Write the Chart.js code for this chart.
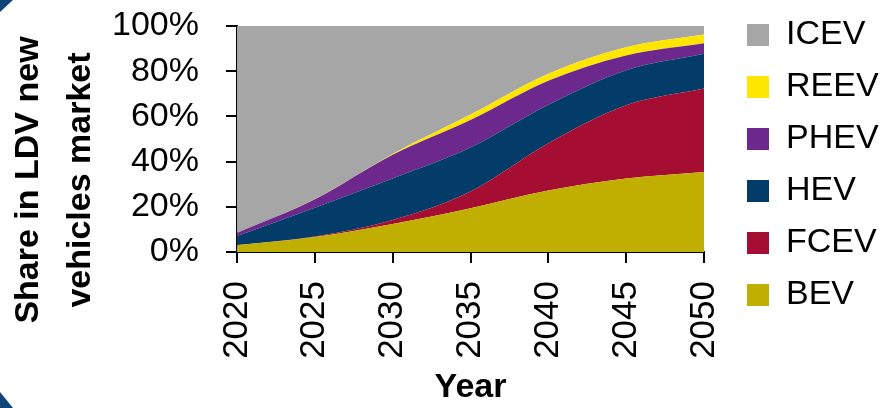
<!DOCTYPE html>
<html>
<head>
<meta charset="utf-8">
<title>LDV market share</title>
<script src="https://cdn.jsdelivr.net/npm/chart.js@4.4.1/dist/chart.umd.min.js"></script>
<style>
  html, body { margin: 0; padding: 0; background: #ffffff; }
  #wrap { position: relative; width: 883px; height: 408px; overflow: hidden; }
  #marketChart { display: block; }
  .corner { position: absolute; background: #0d4677; }
  .corner.top { left: 0; top: 0; width: 13px; height: 12px; clip-path: polygon(0 0, 100% 0, 0 100%); }
  .corner.bottom { left: 0; bottom: 0; width: 13px; height: 16px; clip-path: polygon(0 0, 100% 100%, 0 100%); }
</style>
</head>
<body>
<div id="wrap">
  <canvas id="marketChart" width="883" height="408"></canvas>
  <div class="corner top"></div>
  <div class="corner bottom"></div>
</div>
<script>
  const years = [2020, 2025, 2030, 2035, 2040, 2045, 2050];
  // share of new LDV sales per powertrain, %
  const bev = [3.0, 6.6, 12.4, 19.4, 27.2, 32.5, 35.4];
  const fcev = [0.1, 0.3, 1.8, 7.4, 20.9, 32.4, 36.9];
  const hev = [4.0, 12.7, 18.3, 19.4, 17.0, 15.5, 15.4];
  const phev = [1.3, 3.7, 10.5, 12.2, 10.7, 6.6, 4.7];
  const reev = [0.0, 0.1, 0.4, 2.4, 3.1, 3.6, 3.8];
  const icev = [91.6, 76.6, 56.6, 39.2, 21.1, 9.4, 3.8];
  const yTicks = [0, 20, 40, 60, 80, 100];
  const yTitle = ["Share in LDV new", "vehicles market"];

  const FONT = "'Liberation Sans', Arial, sans-serif";
  Chart.defaults.font.family = FONT;
  Chart.defaults.color = "#000000";

  function series(label, values, color, fill) {
    return {
      label: label,
      data: values.map((v, i) => ({ x: years[i], y: v })),
      backgroundColor: color,
      borderColor: color,
      borderWidth: 0,
      pointRadius: 0,
      cubicInterpolationMode: "monotone",
      fill: fill
    };
  }

  // rotated two-line title for the value axis, sits a bit below the axis centre
  const yTitlePlugin = {
    id: "yTitle",
    afterDraw(chart) {
      const ctx = chart.ctx;
      ctx.save();
      ctx.fillStyle = "#000000";
      ctx.font = "bold 34px " + FONT;
      ctx.textAlign = "center";
      ctx.textBaseline = "middle";
      [29, 81].forEach((x, i) => {
        ctx.save();
        ctx.translate(x, 180);
        ctx.rotate(-Math.PI / 2);
        ctx.fillText(yTitle[i], 0, 0);
        ctx.restore();
      });
      ctx.restore();
    }
  };

  new Chart(document.getElementById("marketChart"), {
    type: "line",
    data: {
      datasets: [
        series("BEV", bev, "#c0ae00", "origin"),
        series("FCEV", fcev, "#a50d32", "-1"),
        series("HEV", hev, "#033c69", "-1"),
        series("PHEV", phev, "#6d288e", "-1"),
        series("REEV", reev, "#ffe600", "-1"),
        series("ICEV", icev, "#a6a6a6", "-1")
      ]
    },
    options: {
      responsive: false,
      animation: false,
      layout: { padding: 0 },
      plugins: {
        tooltip: { enabled: false },
        legend: {
          position: "right",
          align: "start",
          reverse: true,
          maxWidth: 154,
          labels: {
            boxWidth: 22,
            boxHeight: 22,
            padding: 18,
            color: "#000000",
            font: { size: 34 }
          }
        }
      },
      scales: {
        x: {
          type: "linear",
          min: 2020,
          max: 2050,
          ticks: {
            stepSize: 5,
            autoSkip: false,
            minRotation: 90,
            maxRotation: 90,
            padding: 18,
            color: "#000000",
            font: { size: 35 },
            callback: (v) => String(v)
          },
          grid: { drawOnChartArea: false, tickLength: 11, color: "#000000", lineWidth: 2 },
          border: { color: "#000000", width: 2 },
          title: {
            display: true,
            text: "Year",
            color: "#000000",
            padding: 0,
            font: { size: 34, weight: "bold", lineHeight: 1.17 }
          },
          afterFit(scale) {
            scale.height = 156;
          }
        },
        y: {
          stacked: true,
          min: 0,
          max: 100,
          afterBuildTicks(scale) {
            scale.ticks = yTicks.map((v) => ({ value: v }));
          },
          ticks: {
            autoSkip: false,
            padding: 27,
            color: "#000000",
            font: { size: 34 },
            callback: (v) => v + "%"
          },
          grid: { drawOnChartArea: false, tickLength: 11, color: "#000000", lineWidth: 2 },
          border: { color: "#000000", width: 2 },
          afterFit(scale) {
            scale.width = 237;
            scale.paddingTop = 26;
            scale.paddingBottom = 0;
          }
        },
        // empty spacer between the plot and the legend
        gap: {
          position: "right",
          display: true,
          ticks: { display: false },
          grid: { display: false },
          border: { display: false },
          afterFit(scale) {
            scale.width = 25;
          }
        }
      }
    },
    plugins: [yTitlePlugin]
  });
</script>
</body>
</html>
